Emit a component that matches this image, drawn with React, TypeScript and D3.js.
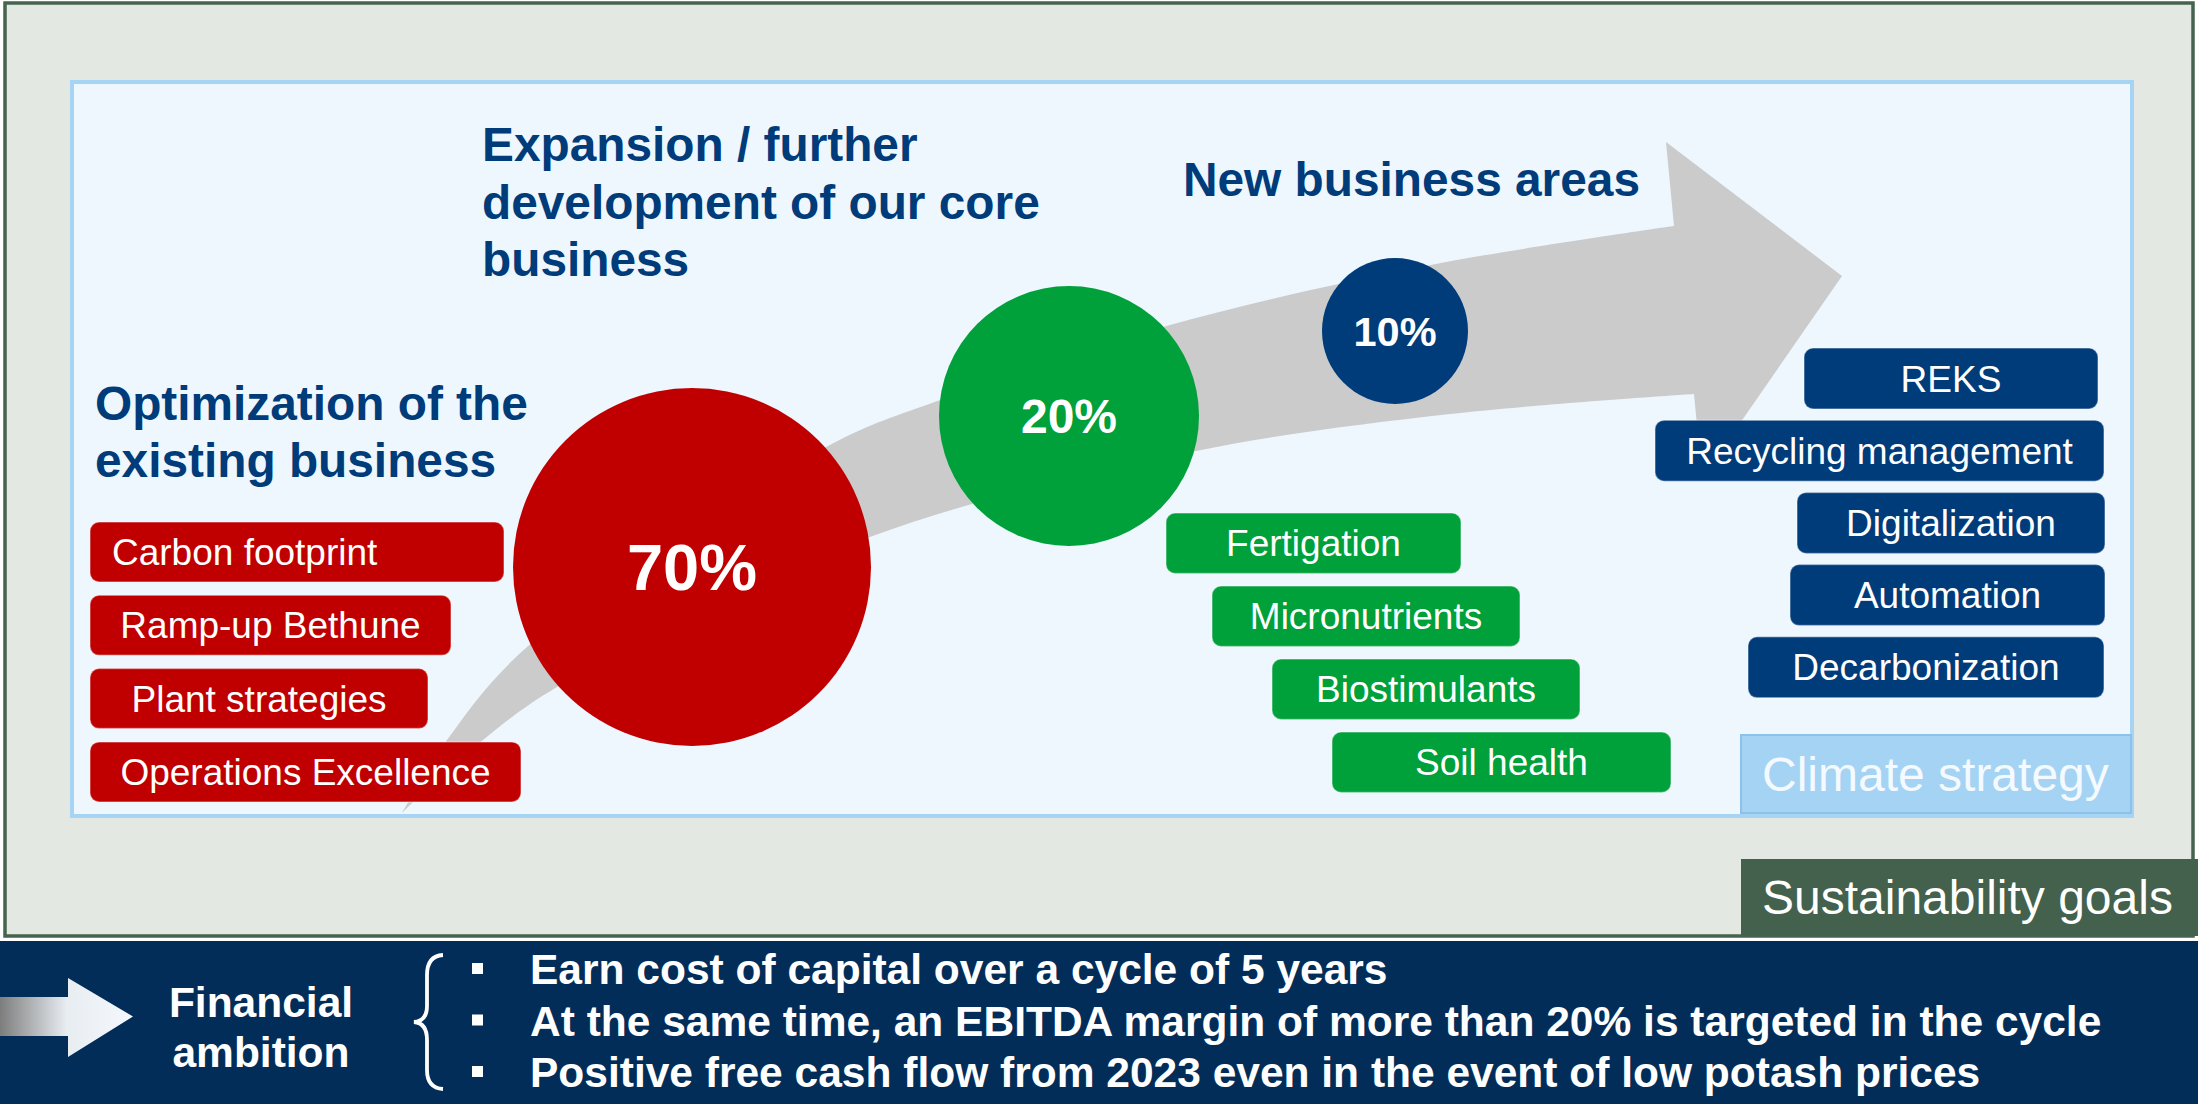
import React from 'react';
import * as d3 from 'd3';

// 内容数据
const headings = {
  optimization: ['Optimization of the', 'existing business'],
  core: ['Expansion / further', 'development of our core', 'business'],
  fresh: ['New business areas'],
};
const shareLabels = ['70%', '20%', '10%'];
const shareValues = [70, 20, 10];
const optimizationItems = ['Carbon footprint', 'Ramp-up Bethune', 'Plant strategies', 'Operations Excellence'];
const coreItems = ['Fertigation', 'Micronutrients', 'Biostimulants', 'Soil health'];
const newItems = ['REKS', 'Recycling management', 'Digitalization', 'Automation', 'Decarbonization'];
const ambitionTitle = ['Financial', 'ambition'];
const ambitionBullets = [
  'Earn cost of capital over a cycle of 5 years',
  'At the same time, an EBITDA margin of more than 20% is targeted in the cycle',
  'Positive free cash flow from 2023 even in the event of low potash prices',
];
const climateLabel = 'Climate strategy';
const sustainLabel = 'Sustainability goals';

const W = 2198;
const H = 1104;
const FONT = '"Liberation Sans", Arial, Helvetica, sans-serif';
const NAVY = '#003b7a';
const RED = '#c00000';
const GREEN = '#00a03a';
const BAND = '#022d59';

// 箱子的水平布局（左右边界）
const redLayout = [[90, 504], [90, 451], [90, 428], [90, 521]];
const greenLayout = [[1166, 1461], [1212, 1520], [1272, 1580], [1332, 1671]];
const navyLayout = [[1804, 2098], [1655, 2104], [1797, 2105], [1790, 2105], [1748, 2104]];

// 圆的半径按份额映射
const rScale = d3.scaleLinear().domain([10, 20, 70]).range([73, 130, 179]);
const circleCenters: [number, number][] = [[692, 567], [1069, 416], [1395, 331]];
const circleColors = [RED, GREEN, NAVY];
const circleFont = [65, 48, 41.5];

// 灰色大箭头的轮廓
const arrowUpper: [number, number][] = [
  [402, 813], [447, 740], [527, 647], [828, 446], [940, 400], [1170, 325], [1436, 264], [1674, 226],
];
const arrowHead: [number, number][] = [[1666, 142], [1842, 276], [1702, 478]];
const arrowLower: [number, number][] = [
  [1694, 394], [1450, 414], [1191, 452], [870, 537], [557, 687], [483, 740], [410, 805], [402, 813],
];

function arrowPath() {
  const line = d3.line<[number, number]>().curve(d3.curveCatmullRom.alpha(0.5));
  const up = line(arrowUpper) || '';
  const low = (line(arrowLower) || '').replace(/^M/, 'L');
  const head = arrowHead.map(p => `L${p[0]},${p[1]}`).join('');
  return up + head + low + 'Z';
}

function Boxes({ items, layout, top, step, height, color, textX }: {
  items: string[]; layout: number[][]; top: number; step: number; height: number; color: string;
  textX?: (i: number) => number | null;
}) {
  const y = d3.scaleLinear().domain([0, 1]).range([top, top + step]);
  return (
    <g>
      {items.map((t, i) => {
        const [x0, x1] = layout[i];
        const y0 = y(i);
        const custom = textX ? textX(i) : null;
        return (
          <g key={t}>
            <rect x={x0} y={y0} width={x1 - x0} height={height} rx={9} fill={color}
              stroke="rgba(255,255,255,0.35)" strokeWidth={1.5} />
            <text x={custom ?? (x0 + x1) / 2} y={y0 + height / 2 + 13}
              textAnchor={custom != null ? 'start' : 'middle'}
              fill="#fff" fontSize={37} fontFamily={FONT}>{t}</text>
          </g>
        );
      })}
    </g>
  );
}

export default function App() {
  const lineY = d3.scaleLinear().domain([0, 1]).range([984, 1035.5]);
  return (
    <svg width={W} height={H} style={{ position: 'absolute', left: 0, top: 0, display: 'block' }}>
      <defs>
        <linearGradient id="bandArrow" x1="0" x2="1" y1="0" y2="0">
          <stop offset="0" stopColor="#7d7d7d" />
          <stop offset="0.5" stopColor="#e8edf2" />
          <stop offset="1" stopColor="#f4f8fc" />
        </linearGradient>
      </defs>
      <rect x={0} y={0} width={W} height={H} fill="#fff" />
      {/* outer frame */}
      <rect x={5} y={3} width={2188} height={933} fill="#e3e8e3" stroke="#46634e" strokeWidth={3.5} />
      {/* inner panel */}
      <rect x={72} y={82} width={2060} height={734} fill="#edf7fd" stroke="#a6d4f4" strokeWidth={4} />

      <path d={arrowPath()} fill="#cbcbcb" />

      {/* headings */}
      {headings.optimization.map((t, i) => (
        <text key={t} x={95} y={420 + i * 57} fill={NAVY} fontSize={47.8} fontWeight="bold" fontFamily={FONT}>{t}</text>
      ))}
      {headings.core.map((t, i) => (
        <text key={t} x={482} y={161 + i * 57.5} fill={NAVY} fontSize={47.8} fontWeight="bold" fontFamily={FONT}>{t}</text>
      ))}
      {headings.fresh.map((t, i) => (
        <text key={t} x={1183} y={196 + i * 57} fill={NAVY} fontSize={47.8} fontWeight="bold" fontFamily={FONT}>{t}</text>
      ))}

      {/* circles */}
      {shareValues.map((v, i) => {
        const [cx, cy] = circleCenters[i];
        const fs = circleFont[i];
        return (
          <g key={shareLabels[i]}>
            <circle cx={cx} cy={cy} r={rScale(v)} fill={circleColors[i]} />
            <text x={cx} y={cy + fs * 0.36} textAnchor="middle" fill="#fff" fontSize={fs}
              fontWeight="bold" fontFamily={FONT}>{shareLabels[i]}</text>
          </g>
        );
      })}

      <Boxes items={optimizationItems} layout={redLayout} top={522} step={73.3} height={60} color={RED}
        textX={i => (i === 0 ? 112 : null)} />
      <Boxes items={coreItems} layout={greenLayout} top={513} step={73} height={60.5} color={GREEN} />
      <Boxes items={newItems} layout={navyLayout} top={348} step={72.2} height={61} color={NAVY} />

      {/* climate strategy */}
      <rect x={1741} y={735} width={390} height={78} fill="#a5d3f4" stroke="#8cc2ea" strokeWidth={2} />
      <text x={1762} y={791} fill="#f4faff" fontSize={48} fontFamily={FONT}>{climateLabel}</text>

      {/* sustainability goals */}
      <rect x={1741} y={859} width={457} height={77} fill="#43614c" />
      <text x={1762} y={914} fill="#fff" fontSize={48} fontFamily={FONT}>{sustainLabel}</text>

      {/* financial ambition band */}
      <rect x={0} y={941} width={W} height={H - 941} fill={BAND} />
      <path d="M0,997 L68,997 L68,978 L133,1016.5 L68,1057 L68,1036 L0,1036 Z" fill="url(#bandArrow)" />
      {ambitionTitle.map((t, i) => (
        <text key={t} x={261} y={1017 + i * 50} textAnchor="middle" fill="#fff" fontSize={42.5}
          fontWeight="bold" fontFamily={FONT}>{t}</text>
      ))}
      <path d="M443,955 Q427,956 427,975 L427,1006 Q427,1021 414,1022 Q427,1023 427,1040 L427,1070 Q427,1088 443,1089"
        fill="none" stroke="#fff" strokeWidth={3.8} />
      {ambitionBullets.map((t, i) => (
        <g key={t}>
          <rect x={472} y={lineY(i) - 21} width={11} height={11} fill="#fff" />
          <text x={530} y={lineY(i)} fill="#fff" fontSize={42.5} fontWeight="bold" fontFamily={FONT}>{t}</text>
        </g>
      ))}
    </svg>
  );
}
